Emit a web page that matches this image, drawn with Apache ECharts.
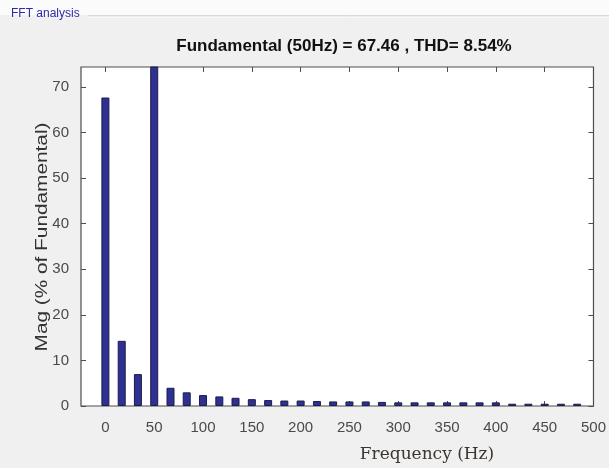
<!DOCTYPE html>
<html>
<head>
<meta charset="utf-8">
<script src="https://cdn.jsdelivr.net/npm/echarts@6/dist/echarts.min.js"></script>
<style>
    html, body { margin: 0; padding: 0; background: #f0f0f0; }
    #chart { width: 609px; height: 468px; }
</style>
</head>
<body>
<div id="chart"></div>
<script>
// harmonic frequencies (Hz) and magnitudes (% of fundamental)
const freqs = [0, 16.7, 33.3, 50, 66.7, 83.3, 100, 116.7, 133.3, 150,
    166.7, 183.3, 200, 216.7, 233.3, 250, 266.7, 283.3, 300, 316.7,
    333.3, 350, 366.7, 383.3, 400, 416.7, 433.3, 450, 466.7, 483.3];
const mags = [67.7, 14.3, 7.0, 100, 4.0, 3.0, 2.4, 2.1, 1.8, 1.5,
    1.3, 1.2, 1.2, 1.1, 1.0, 1.0, 1.0, 0.9, 0.8, 0.8,
    0.8, 0.8, 0.8, 0.8, 0.8, 0.5, 0.5, 0.5, 0.5, 0.5];
const xTicks = [0, 50, 100, 150, 200, 250, 300, 350, 400, 450, 500];
const yTicks = [0, 10, 20, 30, 40, 50, 60, 70];

const titleText = 'Fundamental (50Hz) = 67.46 , THD= 8.54%';
const panelText = 'FFT analysis';
const yName = 'Mag (% of Fundamental)';
const xName = 'Frequency (Hz)';

const frame = '#4d4d4d';
const labelColor = '#4a4a4a';

const myChart = echarts.init(document.getElementById('chart'));

const xBase = {
    type: 'value',
    min: -25,
    max: 500,
    axisLine: { show: false, onZero: false },
    axisTick: { inside: true, length: 5, customValues: xTicks, lineStyle: { color: frame } },
    splitLine: { show: false }
};
const yBase = {
    type: 'value',
    min: 0,
    max: 74.4,
    axisLine: { show: false, onZero: false },
    axisTick: { inside: true, length: 5, customValues: yTicks, lineStyle: { color: frame } },
    splitLine: { show: false }
};

myChart.setOption({
    backgroundColor: '#f0f0f0',
    animation: false,
    title: {
        text: titleText,
        left: 339,
        top: 33,
        textAlign: 'center',
        textStyle: { fontFamily: 'Liberation Sans', fontSize: 17, fontWeight: 'bold', color: '#111' }
    },
    grid: {
        left: 81, top: 67, width: 517, height: 339,
        show: true, backgroundColor: '#fff',
        borderColor: frame, borderWidth: 1.2
    },
    xAxis: [
        Object.assign({}, xBase, {
            position: 'bottom',
            axisLabel: {
                margin: 14, fontSize: 15, color: labelColor, fontFamily: 'Liberation Sans',
                customValues: xTicks
            }
        }),
        Object.assign({}, xBase, { position: 'top', axisLabel: { show: false } })
    ],
    yAxis: [
        Object.assign({}, yBase, {
            position: 'left',
            axisLabel: {
                margin: 12, fontSize: 15, color: labelColor, fontFamily: 'Liberation Sans',
                customValues: yTicks
            }
        }),
        Object.assign({}, yBase, { position: 'right', axisLabel: { show: false } })
    ],
    graphic: [
        { type: 'rect', shape: { x: 0, y: 0, width: 609, height: 15 }, style: { fill: '#fbfbfb' }, z: -1 },
        { type: 'line', shape: { x1: 88, y1: 16, x2: 609, y2: 16 }, style: { stroke: '#c4c4c4', lineWidth: 1 } },
        { type: 'line', shape: { x1: 88, y1: 17, x2: 609, y2: 17 }, style: { stroke: '#ffffff', lineWidth: 1 } },
        {
            type: 'text', left: 11, top: 8,
            style: { text: panelText, fill: '#2b2ba6', font: '12px "Liberation Sans"' }
        },
        {
            type: 'text', x: 43, y: 237, rotation: Math.PI / 2, scaleX: 1.3,
            style: {
                text: yName, fill: '#333', font: '16px "Liberation Sans"',
                align: 'center', verticalAlign: 'middle'
            }
        },
        {
            type: 'text', x: 427, y: 455,
            style: {
                text: xName, fill: '#3a3530', font: '17px "DejaVu Serif"',
                align: 'center', verticalAlign: 'middle'
            }
        }
    ],
    series: [
        {
            type: 'bar',
            barWidth: 8,
            clip: true,
            itemStyle: { color: '#2e3192', borderColor: '#1c1c4a', borderWidth: 1 },
            data: freqs.map((f, i) => [f, mags[i]])
        }
    ]
});
</script>
</body>
</html>
